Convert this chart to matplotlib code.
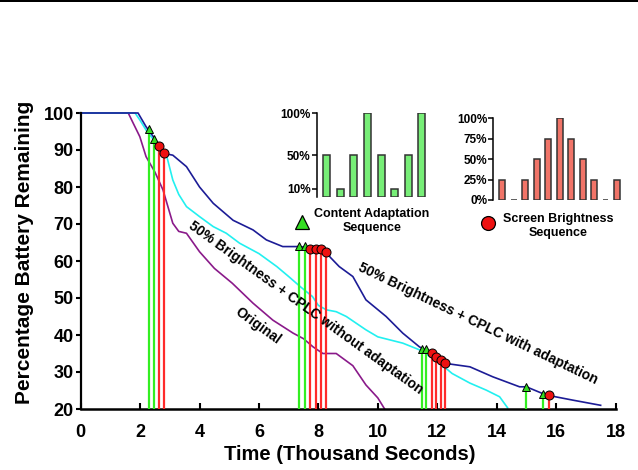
import matplotlib
matplotlib.use("Agg")
import matplotlib.pyplot as plt
from matplotlib.lines import Line2D
from matplotlib.patches import Rectangle

plt.rcParams['font.family'] = ['Liberation Sans', 'DejaVu Sans']
plt.rcParams['font.weight'] = 'bold'

# ---- data ----
orig_t = [0, 1.6, 1.77, 1.99, 2.2, 2.5, 2.77, 3.1, 3.3, 3.56, 4.0, 4.5, 5.1, 5.8, 6.47, 7.15, 7.5, 7.82, 8.15, 8.6, 9.16, 9.6, 10.0, 10.23]
orig_v = [100, 100, 97.2, 93.6, 88.2, 84, 79.2, 70.2, 68, 67.5, 62.5, 58, 54, 48.6, 44, 40.5, 39, 36.8, 35, 35, 31.7, 26.5, 23, 20]

noad_t = [0, 1.83, 2.0, 2.2, 2.55, 2.9, 3.1, 3.3, 3.56, 4.0, 4.46, 4.9, 5.35, 6.0, 6.6, 7.0, 7.4, 7.8, 8.0, 8.27, 8.6, 8.94, 9.6, 10.0, 10.84, 11.4, 12.0, 12.5, 13.1, 13.65, 14.1, 14.37]
noad_v = [100, 100, 98, 95.4, 91.8, 88.2, 81.9, 78, 74.7, 72, 69.3, 67.5, 64.8, 62, 58.5, 55.8, 53, 50.4, 48, 46.8, 46.3, 45, 41.4, 39.5, 37.8, 36, 33, 29.6, 27, 25.1, 23.3, 20.3]

adap_t = [0, 1.93, 2.2, 2.5, 2.78, 3.1, 3.56, 4.0, 4.46, 5.13, 5.8, 6.25, 6.8, 7.3, 7.9, 8.1, 8.27, 8.4, 8.7, 9.16, 9.6, 10.28, 10.84, 11.4, 11.8, 12.3, 13.1, 13.87, 14.77, 15.0, 15.66, 16.56, 17.5]
adap_v = [100, 100, 96.3, 93, 89.1, 88.6, 85.5, 80, 75.6, 71, 68.4, 65.7, 63.9, 63.9, 63.5, 63.2, 62.5, 61, 58.5, 55.8, 49.5, 45, 40.5, 36.8, 35, 32.3, 31.4, 28.7, 26, 26, 23.8, 22.4, 21]

content_t = [2.3, 2.47, 7.35, 7.54, 11.48, 11.63, 15.0, 15.57]
content_v = [95.6, 92.9, 64, 64, 36.1, 36.1, 26, 24]
bright_t = [2.63, 2.79, 7.71, 7.91, 8.1, 8.27, 11.81, 11.96, 12.11, 12.27, 15.77]
bright_v = [91.2, 89.3, 63.2, 63.2, 63.2, 62.5, 35.2, 34.1, 33.2, 32.3, 23.9]

content_seq = [50, 10, 50, 100, 50, 10, 50, 100]
bright_seq = [25, 0, 25, 50, 75, 100, 75, 50, 25, 0, 25]

x_ticks = [0, 2, 4, 6, 8, 10, 12, 14, 16, 18]
y_ticks = [20, 30, 40, 50, 60, 70, 80, 90, 100]
content_ticks = [10, 50, 100]
bright_ticks = [0, 25, 50, 75, 100]

W, H = 638, 470
fig = plt.figure(figsize=(W / 100, H / 100), dpi=100)

def fx(px):
    return px / W

def fy(py):
    return 1 - py / H

ax = fig.add_axes([fx(80.7), fy(409), fx(615.5) - fx(80.7), fy(113) - fy(409)])
ax.set_xlim(0, 18)
ax.set_ylim(20, 100)

purple = '#8a1a8a'
cyan = '#22f0f0'
navy = '#1c1c96'
ax.plot(orig_t, orig_v, color=purple, lw=1.2, clip_on=False, zorder=2)
ax.plot(noad_t, noad_v, color=cyan, lw=1.2, clip_on=False, zorder=2)
ax.plot(adap_t, adap_v, color=navy, lw=1.2, clip_on=False, zorder=2)

ax.vlines(content_t, 20, content_v, color='#33ee22', lw=1.6, zorder=3)
ax.vlines(bright_t, 20, bright_v, color='#ff2a2a', lw=1.6, zorder=3)
ax.plot(content_t, content_v, ls='none', marker='^', ms=6, mfc='#33dd22', mec='black', mew=0.7, zorder=5, clip_on=False)
ax.plot(bright_t, bright_v, ls='none', marker='o', ms=6.5, mfc='#ee1111', mec='black', mew=0.7, zorder=5, clip_on=False)

for s in ['top', 'right']:
    ax.spines[s].set_visible(False)
ax.spines['left'].set_linewidth(1.6)
ax.spines['bottom'].set_linewidth(1.8)
ax.set_xticks(x_ticks)
ax.set_yticks(y_ticks)
ax.tick_params(axis='x', direction='in', length=4.5, width=1.5, pad=11, labelsize=13)
ax.tick_params(axis='y', direction='out', length=3.5, width=1.5, pad=1.5, labelsize=13)
for lab in ax.get_xticklabels() + ax.get_yticklabels():
    lab.set_fontweight('bold')

fig.text(fx(25), fy(252), 'Percentage Battery Remaining', rotation=90, ha='center', va='center',
         fontsize=15, fontweight='bold')
fig.text(fx(350), fy(455), 'Time (Thousand Seconds)', ha='center', va='center', fontsize=14.5, fontweight='bold')

fig.text(fx(478), fy(324), '50% Brightness + CPLC with adaptation', rotation=-25.6, rotation_mode='anchor',
         ha='center', va='center', fontsize=10, fontweight='bold')
fig.text(fx(306), fy(308), '50% Brightness + CPLC without adaptation', rotation=-35.8, rotation_mode='anchor',
         ha='center', va='center', fontsize=10, fontweight='bold')
fig.text(fx(258), fy(326), 'Original', rotation=-36, rotation_mode='anchor',
         ha='center', va='center', fontsize=10, fontweight='bold')

# ---- inset: content adaptation ----
ax1 = fig.add_axes([fx(316.7), fy(197.4), fx(426.7) - fx(316.7), fy(113.3) - fy(197.4)])
ax1.bar(range(len(content_seq)), content_seq, width=0.52, color='#77ee77', edgecolor='#333333', lw=1.1)
ax1.set_xlim(-0.735, 7.35)
ax1.set_ylim(0, 100)
ax1.set_yticks(content_ticks)
ax1.set_yticklabels([f'{v}%' for v in content_ticks])
ax1.set_xticks([])
for s in ['top', 'right', 'bottom']:
    ax1.spines[s].set_visible(False)
ax1.spines['left'].set_linewidth(1.1)
ax1.tick_params(axis='y', length=3.5, width=1.1, pad=1, labelsize=8.5)
for lab in ax1.get_yticklabels():
    lab.set_fontweight('bold')
ax1.patch.set_alpha(0)

# ---- inset: screen brightness ----
ax2 = fig.add_axes([fx(493.3), fy(200), fx(621) - fx(493.3), fy(118.3) - fy(200)])
ax2.bar(range(len(bright_seq)), bright_seq, width=0.52, color='#f07468', edgecolor='#333333', lw=1.1)
ax2.set_xlim(-0.785, 10.35)
ax2.set_ylim(0, 100)
ax2.set_yticks(bright_ticks)
ax2.set_yticklabels([f'{v}%' for v in bright_ticks])
ax2.set_xticks([])
for s in ['top', 'right', 'bottom']:
    ax2.spines[s].set_visible(False)
ax2.spines['left'].set_linewidth(1.1)
ax2.tick_params(axis='y', length=3.5, width=1.1, pad=1, labelsize=8.5)
for lab in ax2.get_yticklabels():
    lab.set_fontweight('bold')
ax2.patch.set_alpha(0)

# ---- legend-like annotations ----
fig.add_artist(Line2D([fx(301.7)], [fy(221.7)], marker='^', ms=10, mfc='#33dd22', mec='black', mew=0.9,
                      transform=fig.transFigure))
fig.text(fx(372), fy(221), 'Content Adaptation\nSequence', ha='center', va='center', fontsize=9,
         fontweight='bold', linespacing=1.3)
fig.add_artist(Line2D([fx(488.3)], [fy(223.3)], marker='o', ms=10, mfc='#ee1111', mec='black', mew=0.9,
                      transform=fig.transFigure))
fig.text(fx(558), fy(226), 'Screen Brightness\nSequence', ha='center', va='center', fontsize=9,
         fontweight='bold', linespacing=1.3)

# top border line
fig.add_artist(Rectangle((0, fy(2)), 1, fy(0) - fy(2), transform=fig.transFigure, color='black', lw=0))

fig.savefig('out.png', dpi=100)
